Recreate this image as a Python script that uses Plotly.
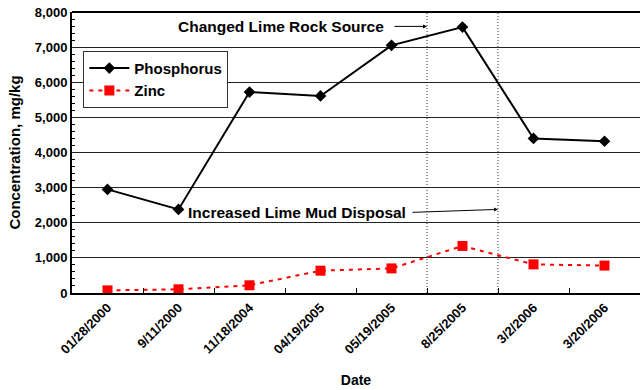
import plotly.graph_objects as go

dates = ["01/28/2000", "9/11/2000", "11/18/2004", "04/19/2005",
         "05/19/2005", "8/25/2005", "3/2/2006", "3/20/2006"]
phosphorus = [2950, 2380, 5720, 5610, 7050, 7570, 4400, 4320]
zinc = [75, 105, 220, 635, 700, 1340, 815, 780]

FONT = "Liberation Sans, Arial, sans-serif"

fig = go.Figure()
fig.add_trace(go.Scatter(
    x=dates, y=phosphorus, name="<b>Phosphorus</b>", mode="lines+markers",
    line=dict(color="black", width=2),
    marker=dict(symbol="diamond", size=9, color="black"),
))
fig.add_trace(go.Scatter(
    x=dates, y=zinc, name="<b>Zinc</b>", mode="lines+markers",
    line=dict(color="#ff0000", width=2, dash="4px,5px"),
    marker=dict(symbol="square", size=10, color="#ff0000"),
))

# vertical dotted event lines between categories
for xv in [4.5, 5.5]:
    fig.add_shape(type="line", xref="x", yref="paper", x0=xv, x1=xv, y0=0, y1=1,
                  line=dict(color="#333333", width=1, dash="1px,2px"), layer="below")

annot_font = dict(family=FONT, size=15.5, color="black")
fig.add_annotation(x=2.45, y=7590, xref="x", yref="y", text="<b>Changed Lime Rock Source</b>",
                   showarrow=False, font=annot_font)
fig.add_annotation(x=4.5, y=7590, xref="x", yref="y", ax=-34, ay=0, text="",
                   showarrow=True, arrowhead=2, arrowsize=0.8, arrowwidth=1, arrowcolor="black")
fig.add_annotation(x=2.67, y=2290, xref="x", yref="y", text="<b>Increased Lime Mud Disposal</b>",
                   showarrow=False, font=annot_font)
fig.add_annotation(x=5.5, y=2380, xref="x", yref="y", ax=-87, ay=3, text="",
                   showarrow=True, arrowhead=2, arrowsize=0.8, arrowwidth=1, arrowcolor="black")

fig.update_layout(
    width=640, height=390,
    margin=dict(l=72, r=0, t=12, b=97),
    paper_bgcolor="white", plot_bgcolor="white",
    font=dict(family=FONT, size=13, color="black"),
    showlegend=True,
    legend=dict(x=0.02, y=0.862, xanchor="left", yanchor="top",
                bordercolor="#333333", borderwidth=1, bgcolor="white",
                font=dict(family=FONT, size=15, color="black"),
                tracegroupgap=0, itemwidth=40),
)
fig.update_xaxes(
    type="category", categoryorder="array", categoryarray=dates,
    range=[-0.5, 7.5],
    tickangle=-45, tickfont=dict(family=FONT, size=13, color="black", weight="bold"),
    showline=True, linecolor="black", linewidth=2, mirror=False,
    ticks="inside", tickson="boundaries", ticklen=5, tickcolor="black",
    showgrid=False,
    title=dict(text="<b>Date</b>", font=dict(family=FONT, size=14), standoff=19),
)
fig.update_yaxes(
    range=[0, 8000], dtick=1000, tickformat=",",
    tickfont=dict(family=FONT, size=13, color="black", weight="bold"),
    showline=True, linecolor="black", linewidth=2,
    showgrid=True, gridcolor="#222222", gridwidth=1,
    ticks="", minor=dict(dtick=200, ticks="inside", ticklen=3, tickcolor="black", showgrid=False),
    zeroline=False,
    title=dict(text="<b>Concentration, mg/kg</b>", font=dict(family=FONT, size=15), standoff=11),
)
# top border line
fig.add_shape(type="line", xref="paper", yref="paper", x0=0, x1=1, y0=1, y1=1,
              line=dict(color="black", width=2))

fig.write_html("out.html")
